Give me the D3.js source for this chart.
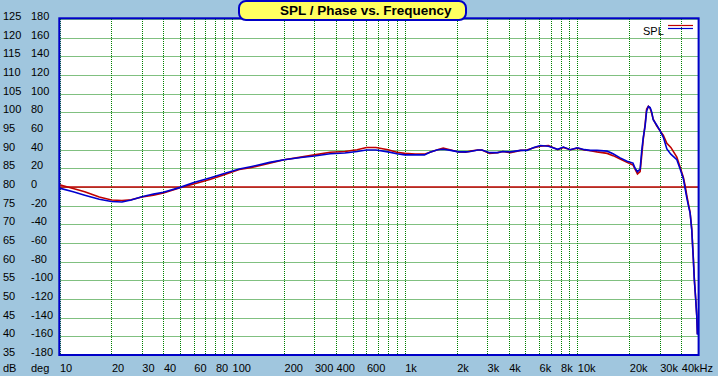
<!DOCTYPE html>
<html>
<head>
<meta charset="utf-8">
<script src="https://cdn.jsdelivr.net/npm/d3@7"></script>
<style>
  body { margin: 0; background: #a0c6de; }
  svg { display: block; font-family: "Liberation Sans", Arial, sans-serif; }
</style>
</head>
<body>
<svg id="drawing_region"></svg>
<script>
// frequency points (Hz)
const freq = [10,12,14,17,20,23,26,30,35,40,50,60,75,90,110,130,165,200,250,300,370,450,530,600,680,800,900,1000,1150,1300,1400,1550,1670,1850,2050,2250,2400,2650,2800,3100,3450,3700,4100,4700,5100,5600,6100,6800,7700,8300,9100,10000,11000,11900,13000,14900,16100,17700,19400,21000,21600,22300,23100,23600,24100,24700,25200,25800,26400,27000,27500,28800,30100,31500,33000,34800,37700,39400,41100,42100,43000,44000,45000,46000,47000,47600,48500,49200,49600];

// SPL, dB (blue trace)
const splBlue = [79.7,78.7,77.8,76.7,76.1,76.0,76.5,77.4,78.1,78.6,79.9,81.2,82.5,83.6,84.8,85.5,86.6,87.3,87.9,88.3,88.9,89.1,89.5,89.9,89.9,89.4,88.9,88.6,88.6,88.6,89.3,90.0,90.1,89.8,89.4,89.4,89.5,89.9,89.9,89.2,89.2,89.5,89.4,89.8,89.8,90.6,91.1,90.9,90.1,90.7,90.0,90.5,90.0,89.8,89.8,89.6,88.9,87.8,86.9,86.4,85.0,84.1,84.8,89.7,93.3,96.4,100.4,101.6,101.3,100.0,98.0,96.6,95.1,93.3,90.2,88.8,87.3,84.8,82.3,79.6,77.2,75.0,73.0,68.5,60.5,55.2,49.8,45.3,40.4];

// SPL, dB (red trace)
const splRed = [80.6,79.6,78.7,77.3,76.5,76.4,76.6,77.3,77.8,78.4,79.8,80.8,82.1,83.3,84.7,85.2,86.4,87.3,88.0,88.6,89.3,89.5,90.0,90.6,90.6,90.0,89.3,89.0,88.8,88.8,89.3,90.0,90.4,89.9,89.4,89.3,89.6,89.9,89.9,89.0,89.2,89.5,89.2,89.8,89.9,90.5,90.9,91.1,90.0,90.6,90.0,90.4,89.9,89.7,89.4,89.0,88.4,87.5,86.6,85.9,84.8,83.5,84.1,88.4,92.9,96.8,100.9,101.6,101.1,99.6,98.2,96.4,95.1,93.8,91.7,90.6,88.0,85.3,82.6,80.4,77.9,75.4,73.2,68.8,60.8,55.5,50.0,45.5,40.6];

// axis tick labels
const dbTicks  = [125,120,115,110,105,100,95,90,85,80,75,70,65,60,55,50,45,40,35];
const degTicks = [180,160,140,120,100,80,60,40,20,0,-20,-40,-60,-80,-100,-120,-140,-160,-180];
const freqLabelValues = [10,20,30,40,60,80,100,200,300,400,600,1000,2000,3000,4000,6000,8000,10000,20000,30000,40000];
const freqLabelTexts  = ["10","20","30","40","60","80","100","200","300","400","600","1k","2k","3k","4k","6k","8k","10k","20k","30k","40kHz"];

const config = {
    width: 718,
    height: 376,
    plot: {left: 59.5, right: 698, top: 19, bottom: 355}
};

const svg = d3.select('#drawing_region')
    .attr('width', config.width)
    .attr('height', config.height);

svg.append('rect')
    .attr('width', config.width)
    .attr('height', config.height)
    .attr('fill', '#a0c6de');

const xscale = d3.scaleLog()
    .domain([10, 50000])
    .range([config.plot.left, config.plot.right]);

const yscale = d3.scaleLinear()
    .domain([35, 125])
    .range([config.plot.bottom, config.plot.top]);

const degscale = d3.scaleLinear()
    .domain([-180, 180])
    .range([config.plot.bottom, config.plot.top]);

// plot background
svg.append('rect')
    .attr('x', config.plot.left)
    .attr('y', config.plot.top)
    .attr('width', config.plot.right - config.plot.left)
    .attr('height', config.plot.bottom - config.plot.top)
    .attr('fill', 'white');

// grid
const grid = svg.append('g')
    .attr('stroke', '#008000')
    .attr('stroke-width', 1)
    .attr('stroke-dasharray', '1,1');

grid.selectAll('.vgrid')
    .data(xscale.ticks())
    .join('line')
    .attr('x1', d => Math.round(xscale(d)) + 0.5)
    .attr('x2', d => Math.round(xscale(d)) + 0.5)
    .attr('y1', config.plot.top)
    .attr('y2', config.plot.bottom);

grid.selectAll('.hgrid')
    .data(dbTicks)
    .join('line')
    .attr('x1', config.plot.left)
    .attr('x2', config.plot.right)
    .attr('y1', d => Math.round(yscale(d)) + 0.5)
    .attr('y2', d => Math.round(yscale(d)) + 0.5);

// 0 deg / 80 dB reference line
svg.append('line')
    .attr('x1', config.plot.left)
    .attr('x2', config.plot.right)
    .attr('y1', degscale(0))
    .attr('y2', degscale(0))
    .attr('stroke', '#c00000')
    .attr('stroke-width', 1.5);

// traces
const line = d3.line()
    .x((d, i) => xscale(freq[i]))
    .y(d => yscale(d));

svg.append('clipPath').attr('id', 'clip')
    .append('rect')
    .attr('x', config.plot.left)
    .attr('y', config.plot.top)
    .attr('width', config.plot.right - config.plot.left)
    .attr('height', config.plot.bottom - config.plot.top);

svg.append('path')
    .datum(splRed)
    .attr('d', line)
    .attr('clip-path', 'url(#clip)')
    .attr('fill', 'none')
    .attr('stroke', '#c00000')
    .attr('stroke-width', 1.6);

svg.append('path')
    .datum(splBlue)
    .attr('d', line)
    .attr('clip-path', 'url(#clip)')
    .attr('fill', 'none')
    .attr('stroke', '#0000d0')
    .attr('stroke-width', 1.6);

// plot frame
svg.append('rect')
    .attr('x', config.plot.left - 0.2)
    .attr('y', config.plot.top - 0.7)
    .attr('width', config.plot.right - config.plot.left + 0.8)
    .attr('height', config.plot.bottom - config.plot.top + 0.7)
    .attr('fill', 'none')
    .attr('stroke', '#0000c8')
    .attr('stroke-width', 2);

// left axis labels
const labels = svg.append('g')
    .attr('font-size', '11px')
    .attr('fill', 'black');

labels.selectAll('.db')
    .data(dbTicks)
    .join('text')
    .attr('x', 3)
    .attr('y', d => yscale(d) + 1)
    .text(d => d);

labels.selectAll('.deg')
    .data(degTicks)
    .join('text')
    .attr('x', 31)
    .attr('y', d => degscale(d) + 1)
    .text(d => d);

labels.append('text').attr('x', 3).attr('y', 372).text('dB');
labels.append('text').attr('x', 31).attr('y', 372).text('deg');

// bottom axis labels
labels.selectAll('.freq')
    .data(freqLabelValues)
    .join('text')
    .attr('x', d => xscale(d) + 0.5)
    .attr('y', 372)
    .text((d, i) => freqLabelTexts[i]);

// title
svg.append('rect')
    .attr('x', 239)
    .attr('y', 1)
    .attr('width', 227)
    .attr('height', 19)
    .attr('rx', 7)
    .attr('fill', '#ffff60')
    .attr('stroke', '#0000c8')
    .attr('stroke-width', 2);

svg.append('text')
    .attr('x', 280)
    .attr('y', 15)
    .attr('font-size', '13.5px')
    .attr('font-weight', 'bold')
    .text('SPL / Phase vs. Frequency');

// legend
svg.append('text')
    .attr('x', 643)
    .attr('y', 35)
    .attr('font-size', '11px')
    .text('SPL');

svg.append('line')
    .attr('x1', 668).attr('x2', 693)
    .attr('y1', 25.5).attr('y2', 25.5)
    .attr('stroke', '#c00000')
    .attr('stroke-width', 1.2);

svg.append('line')
    .attr('x1', 668).attr('x2', 693)
    .attr('y1', 28.5).attr('y2', 28.5)
    .attr('stroke', '#0000d0')
    .attr('stroke-width', 1.2);
</script>
</body>
</html>
